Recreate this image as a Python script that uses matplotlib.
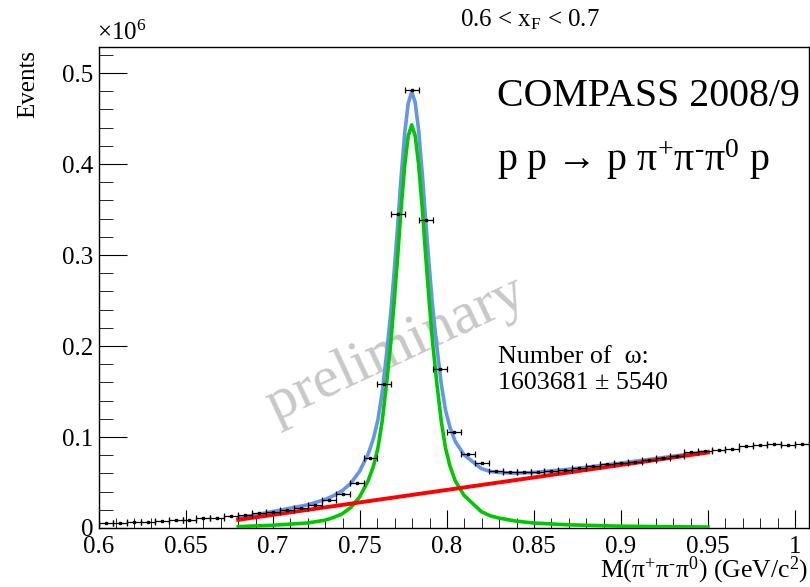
import numpy as np
import matplotlib
matplotlib.use("Agg")
import matplotlib.pyplot as plt

plt.rcParams["font.family"] = ["Liberation Serif", "DejaVu Serif"]
plt.rcParams["mathtext.fontset"] = "custom"
plt.rcParams["mathtext.rm"] = "Liberation Serif"
plt.rcParams["mathtext.it"] = "Liberation Serif:italic"

# histogram: 51 bins of 8 MeV from 0.6 GeV, counts in units of 1e6
bin_edges = np.linspace(0.6, 1.008, 52)
counts = [0.0055, 0.006, 0.0065, 0.007, 0.0075, 0.0085, 0.009, 0.0105, 0.0115, 0.013,
          0.0145, 0.016, 0.018, 0.020, 0.022, 0.025, 0.031, 0.037, 0.050, 0.0766,
          0.158, 0.345, 0.481, 0.338, 0.175, 0.106, 0.081, 0.071, 0.063, 0.061,
          0.061, 0.062, 0.063, 0.064, 0.066, 0.068, 0.070, 0.071, 0.073, 0.075,
          0.077, 0.079, 0.083, 0.0846, 0.0857, 0.0868, 0.0905, 0.0912, 0.0923, 0.0915,
          0.0923]

# fit curves (signal, total, background)
fit_x = [0.680, 0.6997, 0.7197, 0.7297, 0.7347, 0.7397, 0.7447, 0.7497, 0.7547, 0.7577,
         0.7603, 0.7627, 0.7652, 0.7677, 0.7697, 0.7717, 0.7734, 0.7757, 0.7777, 0.7797,
         0.7817, 0.7837, 0.7860, 0.7877, 0.7897, 0.7917, 0.7942, 0.7967, 0.7991, 0.8017,
         0.8047, 0.8097, 0.8147, 0.8197, 0.8247, 0.8297, 0.8397, 0.8497, 0.8697, 0.8997,
         0.950]
sig_y = [0.0015, 0.003, 0.0055, 0.0085, 0.0115, 0.0155, 0.0225, 0.034, 0.052, 0.068,
         0.088, 0.117, 0.158, 0.204, 0.250, 0.300, 0.346, 0.399, 0.431, 0.443,
         0.431, 0.399, 0.346, 0.300, 0.250, 0.204, 0.158, 0.117, 0.088, 0.068,
         0.052, 0.036, 0.027, 0.018, 0.0135, 0.011, 0.0075, 0.0055, 0.0035, 0.002,
         0.001]
tot_y = [0.011, 0.018, 0.0254, 0.0311, 0.0355, 0.0408, 0.0492, 0.0621, 0.0814, 0.0983,
         0.119, 0.1487, 0.1903, 0.237, 0.2836, 0.3341, 0.3806, 0.4342, 0.4668, 0.4793,
         0.4679, 0.4364, 0.384, 0.3385, 0.2891, 0.2436, 0.1983, 0.158, 0.1297, 0.1104,
         0.0952, 0.0806, 0.0729, 0.0653, 0.0622, 0.061, 0.0603, 0.061, 0.0645, 0.0712,
         0.084]
bkg_x = [0.68, 0.95]
bkg_y = [0.009, 0.083]

fig = plt.figure(figsize=(8.1, 5.87), dpi=100)
ax = fig.add_axes([99 / 810, 59 / 587, 710 / 810, 481 / 587])

centres = 0.5 * (bin_edges[:-1] + bin_edges[1:])
half = 0.5 * np.diff(bin_edges)

ax.text(0.771, 0.196, "preliminary", fontsize=43, color="#c8c8c8", rotation=25,
        ha="center", va="center", zorder=0)

ax.plot(fit_x, tot_y, color="#6495ed", lw=2.6, zorder=2, solid_joinstyle="round")
ax.plot(fit_x, sig_y, color="#00c800", lw=2.6, zorder=3, solid_joinstyle="round")
ax.plot(bkg_x, bkg_y, color="#ff0000", lw=2.8, zorder=4)
ax.errorbar(centres, counts, xerr=half, fmt="s", ms=1.8, color="black",
            elinewidth=0.9, capsize=2.2, capthick=0.9, zorder=5)

ax.set_xlim(0.6, 1.008)
ax.set_ylim(0, 0.5286)
ax.set_xticks([0.6, 0.65, 0.7, 0.75, 0.8, 0.85, 0.9, 0.95, 1.0])
ax.set_xticklabels(["0.6", "0.65", "0.7", "0.75", "0.8", "0.85", "0.9", "0.95", "1"])
ax.set_xticks(np.arange(0.6, 1.008, 0.01), minor=True)
ax.set_yticks([0, 0.1, 0.2, 0.3, 0.4, 0.5])
ax.set_yticklabels(["0", "0.1", "0.2", "0.3", "0.4", "0.5"])
ax.set_yticks(np.arange(0, 0.53, 0.02), minor=True)
ax.tick_params(axis="both", which="both", direction="in", labelsize=18)
ax.tick_params(axis="x", which="major", length=13, pad=6)
ax.tick_params(axis="x", which="minor", length=7)
ax.tick_params(axis="y", which="major", length=20, pad=4)
ax.tick_params(axis="y", which="minor", length=10)
for s in ax.spines.values():
    s.set_linewidth(1)

ax.text(-0.003, 1.005, r"$\times$10$^{6}$", transform=ax.transAxes, fontsize=18,
        ha="left", va="bottom")
fig.text(28 / 810, 1 - 50 / 587, "Events", rotation=90, fontsize=18, ha="center", va="top")
fig.text(808 / 810, 1 - 586 / 587, "M(π$^{+}$π$^{\u2010}$π$^{0}$) (GeV/c$^{2}$)",
         fontsize=18.5, ha="right", va="bottom")
fig.text(530 / 810, 1 - 20 / 587, r"0.6 < x$_{\mathrm{F}}$ < 0.7", fontsize=18,
         ha="center", va="center")
fig.text(497 / 810, 1 - 97 / 587, "COMPASS 2008/9", fontsize=28.7, ha="left", va="center")
fig.text(497 / 810, 1 - 160 / 587, "p p → p π$^{+}$π$^{\u2010}$π$^{0}$ p",
         fontsize=28.7, ha="left", va="center")
fig.text(498 / 810, 1 - 357 / 587, "Number of  ω:", fontsize=18.7, ha="left", va="center")
fig.text(498 / 810, 1 - 383 / 587, "1603681 ± 5540", fontsize=18.7, ha="left", va="center")

fig.savefig("out.png", dpi=100)
